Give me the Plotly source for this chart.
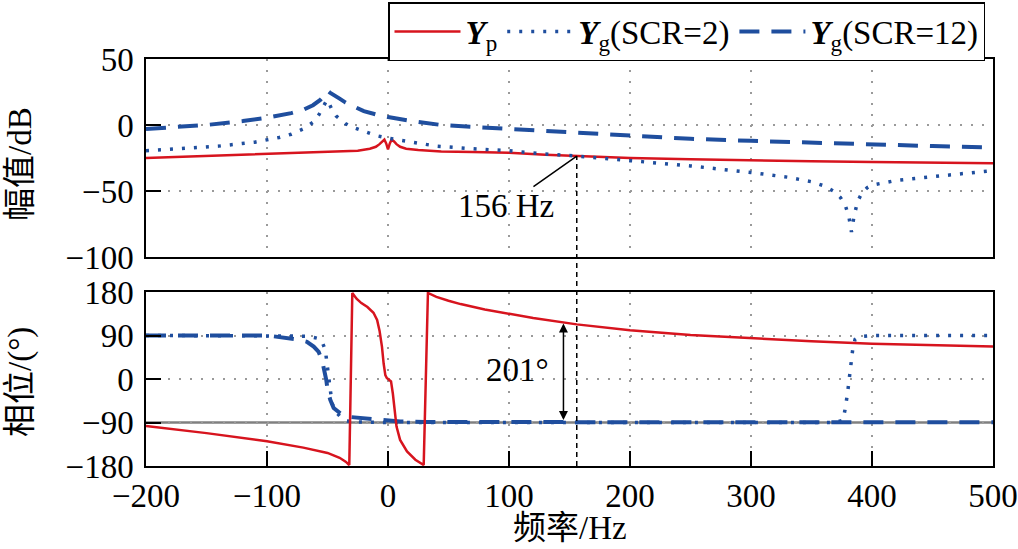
import plotly.graph_objects as go

# ---------------- data ----------------
# Magnitude (dB)
f_yp_mag = [-200, -150, -100, -60, -40, -25, -15, -10, -7, -5, -3, -1.5, 0, 1.5, 3, 5, 7, 10, 15, 25,
            44, 70, 100, 130, 156, 200, 250, 300, 350, 400, 450, 500]
yp_mag = [-25, -23.5, -22, -20.5, -20, -19.5, -18, -16.5, -14.5, -12.5, -11, -14, -18.5, -14, -11, -12.5,
          -14.5, -16.5, -18, -19, -20, -20.5, -21, -22.5, -23.5, -25, -26, -27, -27.5, -28, -28.5, -29]

f_g2_mag = [-200, -170, -140, -110, -90, -80, -70, -62, -57, -54, -52, -50.5, -49.5, -48, -46, -43, -40,
            -35, -30, -20, -10, 0, 10, 20, 40, 70, 100, 130, 156, 200, 250, 300, 330, 350, 360, 368,
            374, 378, 381, 383, 385, 388, 392, 396, 400, 420, 450, 475, 500]
g2_mag = [-19.5, -18, -16, -13, -9.5, -7, -3, 2, 8, 13, 16.5, 19, 18, 15, 11, 7, 4.5,
          1, -1.5, -5, -8, -10, -11.5, -13, -16, -18, -19.5, -22, -23.5, -27, -31, -36, -39.5, -43, -46, -50,
          -55, -61, -70, -81, -70, -58, -51, -47.5, -45.5, -42, -39, -36.5, -34.5]

f_g12_mag = [-200, -150, -120, -100, -80, -70, -62, -56, -52, -50, -48, -45, -40, -35, -28, -20, -10, 0,
             20, 44, 70, 100, 150, 200, 250, 300, 350, 400, 450, 500]
g12_mag = [-3, 0, 3, 5.5, 9, 11.5, 15, 19, 23, 26, 24.5, 22.5, 20, 17, 14, 10.5, 8, 6,
           3, 0, -1.5, -3, -6, -8.5, -10.5, -12, -13.5, -14.5, -16, -17]

# Phase (deg)
f_yp_ph = [-200, -150, -100, -70, -50, -40, -35, -32, -29.5, -26, -22, -17, -12, -9, -7, -5, -3.6, -2.2,
           -1, 0, 1, 2.5, 4, 5.2, 7, 10, 15.7, 22.6, 29.5, 33, 40, 50, 60, 80, 100, 120, 156, 200, 250,
           300, 350, 400, 450, 500]
yp_ph = [-97, -112, -129, -142, -153, -163, -171, -178, 178, 166, 157, 149, 137, 122, 100, 67, 32, 8,
         2, 0, -1, -5, -30, -64, -98, -126, -150, -167, -178, 178, 170, 162, 155, 144, 135, 126, 113, 101, 91,
         84, 78, 73, 70, 67]

f_g2_ph = [-200, -150, -100, -75, -65, -58, -54.5, -51.8, -50.4, -49, -48.2, -46.3, -43.5, -39.4, -34,
           -25, 0, 100, 200, 300, 370, 376, 378, 380, 382, 384, 386, 390, 400, 450, 500]
g2_ph = [90, 90, 90, 89, 88, 84, 77, 60, 32, 5, -23, -50, -67, -78, -87,
         -89, -90, -90, -90, -90, -90, -85, -60, -25, 20, 60, 82, 88, 90, 90, 90]

f_g12_ph = [-200, -150, -100, -75, -67, -61.4, -57.3, -54.5, -52.6, -51, -49.9, -47.7, -44.9, -39.4, -34,
            -17, 0, 10, 30, 100, 200, 300, 400, 500]
g12_ph = [90, 90, 90, 82, 77, 67, 56, 39, 19, -2, -23, -43, -60, -71, -78,
          -82, -85, -88, -89, -89.5, -89.5, -89.5, -89.5, -89.5]

x_ticks = [-200, -100, 0, 100, 200, 300, 400, 500]
mag_ticks = [-100, -50, 0, 50]
ph_ticks = [-180, -90, 0, 90, 180]

f_cross, mag_cross = 156, -23.5          # crossing point
f_arrow, ph_top, ph_bot = 145, 115, -88  # 201 degree arrow

# ---------------- styling ----------------
W, H = 1018, 549
L, R, T, B = 146, 25, 59, 83
PW, PH = W - L - R, H - T - B


def px(p):
    return (p - L) / PW


def py(p):
    return (H - B - p) / PH


top_dom = [py(257), 1.0]
bot_dom = [0.0, py(292)]

RED = "#d7141e"
BLUE = "#1f4e9e"
FONT = "Liberation Serif, Times New Roman, Noto Sans CJK SC, serif"
FS = 33
GRID = dict(showgrid=True, gridcolor="#9a9a9a", gridwidth=1.5, griddash="2px,9px", zeroline=False,
            showline=True, linecolor="black", linewidth=1.5, mirror=True)

fig = go.Figure()
fig.add_trace(go.Scatter(x=f_yp_mag, y=yp_mag, mode="lines", name="<b><i>Y</i></b><sub>p</sub>",
                         line=dict(color=RED, width=2.5), xaxis="x", yaxis="y"))
fig.add_trace(go.Scatter(x=f_g2_mag, y=g2_mag, mode="lines", name="<b><i>Y</i></b><sub>g</sub>(SCR=2)",
                         line=dict(color=BLUE, width=3.5, dash="3px,9px"), xaxis="x", yaxis="y"))
fig.add_trace(go.Scatter(x=f_g12_mag, y=g12_mag, mode="lines", name="<b><i>Y</i></b><sub>g</sub>(SCR=12)",
                         line=dict(color=BLUE, width=4, dash="20px,12px"), xaxis="x", yaxis="y"))

fig.add_trace(go.Scatter(x=f_g2_ph, y=g2_ph, mode="lines", showlegend=False,
                         line=dict(color=BLUE, width=3.5, dash="3px,9px"), xaxis="x2", yaxis="y2"))
fig.add_trace(go.Scatter(x=f_g12_ph, y=g12_ph, mode="lines", showlegend=False,
                         line=dict(color=BLUE, width=4, dash="20px,12px"), xaxis="x2", yaxis="y2"))
fig.add_trace(go.Scatter(x=f_yp_ph, y=yp_ph, mode="lines", showlegend=False,
                         line=dict(color=RED, width=2.5), xaxis="x2", yaxis="y2"))

tickfont = dict(family=FONT, size=FS, color="black")

fig.update_layout(
    width=W, height=H,
    margin=dict(l=L, r=R, t=T, b=B, pad=0, autoexpand=False),
    paper_bgcolor="white", plot_bgcolor="white",
    font=dict(family=FONT, size=FS, color="black"),
    xaxis=dict(domain=[0, 1], anchor="y", range=[x_ticks[0], x_ticks[-1]], tickvals=x_ticks,
               showticklabels=False, ticks="", automargin=False, **GRID),
    yaxis=dict(domain=top_dom, anchor="x", range=[mag_ticks[0], mag_ticks[-1]], tickvals=mag_ticks,
               ticks="inside", ticklen=15, tickwidth=1.5, tickcolor="black", tickfont=tickfont,
               ticklabelstandoff=4, automargin=False, **GRID),
    xaxis2=dict(domain=[0, 1], anchor="y2", matches="x", range=[x_ticks[0], x_ticks[-1]], tickvals=x_ticks,
                ticks="inside", ticklen=15, tickwidth=1.5, tickcolor="black", tickfont=tickfont,
                automargin=False, **GRID),
    yaxis2=dict(domain=bot_dom, anchor="x2", range=[ph_ticks[0], ph_ticks[-1]], tickvals=ph_ticks,
                ticks="inside", ticklen=15, tickwidth=1.5, tickcolor="black", tickfont=tickfont,
                ticklabelstandoff=4, automargin=False, **GRID),
    legend=dict(orientation="h", x=px(985), xanchor="right", y=py(2), yanchor="top",
                bordercolor="black", borderwidth=1.5, bgcolor="white",
                font=dict(family=FONT, size=33, color="black"), itemwidth=66),
    showlegend=True,
)

# gray reference line at -90 deg
fig.add_shape(type="line", xref="x2", yref="y2", x0=x_ticks[0], x1=x_ticks[-1], y0=-90, y1=-90,
              line=dict(color="#808080", width=2.5), layer="below")

# vertical dashed line at 156 Hz through both panels
y_top_paper = top_dom[0] + (mag_cross - mag_ticks[0]) / (mag_ticks[-1] - mag_ticks[0]) * (top_dom[1] - top_dom[0])
fig.add_shape(type="line", xref="x", yref="paper", x0=f_cross, x1=f_cross, y0=0, y1=y_top_paper,
              line=dict(color="black", width=1.5, dash="5px,4px"))

# 156 Hz label with leader
fig.add_annotation(x=f_cross, y=mag_cross, xref="x", yref="y", text="156 Hz", showarrow=True,
                   arrowhead=0, arrowwidth=1.5, arrowcolor="black", ax=-71, ay=50,
                   font=dict(family=FONT, size=FS, color="black"))

# 201 degree double arrow
fig.add_annotation(x=f_arrow, y=ph_top, xref="x2", yref="y2", ax=f_arrow, ay=ph_bot, axref="x2", ayref="y2",
                   text="", showarrow=True, arrowhead=2, arrowside="end+start", arrowsize=1.2,
                   arrowwidth=1.5, arrowcolor="black")
fig.add_annotation(x=107, y=19, xref="x2", yref="y2", text="201°", showarrow=False,
                   font=dict(family=FONT, size=FS, color="black"))

# axis titles
fig.add_annotation(x=px(20), y=py(164), xref="paper", yref="paper", text="幅值/dB", textangle=-90,
                   xanchor="center", yanchor="middle",
                   showarrow=False, font=dict(family=FONT, size=FS, color="black"))
fig.add_annotation(x=px(20), y=py(382), xref="paper", yref="paper", text="相位/(°)", textangle=-90,
                   xanchor="center", yanchor="middle",
                   showarrow=False, font=dict(family=FONT, size=FS, color="black"))
fig.add_annotation(x=px(570), y=py(528), xref="paper", yref="paper", text="频率/Hz",
                   xanchor="center", yanchor="middle",
                   showarrow=False, font=dict(family=FONT, size=FS, color="black"))

fig.write_html("out.html", config={"displayModeBar": False},
               post_script="document.body.style.margin='0';document.body.style.padding='0';")
